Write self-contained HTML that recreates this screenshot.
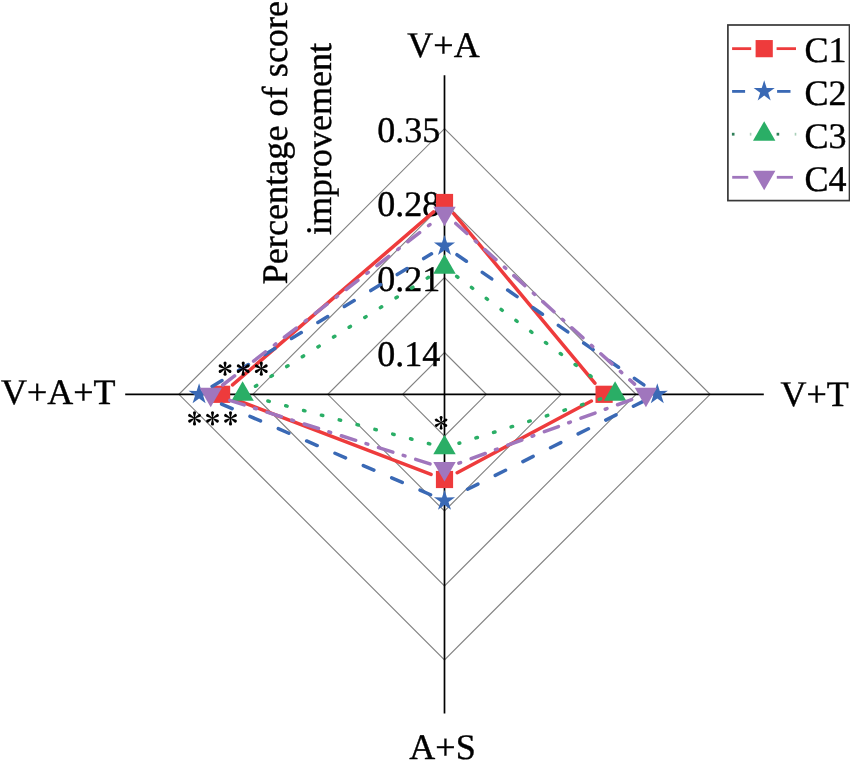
<!DOCTYPE html><html><head><meta charset="utf-8"><style>html,body{margin:0;padding:0;background:#fff;overflow:hidden;}svg{display:block;will-change:transform;}text{font-family:"Liberation Serif",serif;text-rendering:geometricPrecision;fill:#000;stroke:#000;stroke-width:0.4px;}</style></head><body>
<svg width="850" height="770" viewBox="0 0 850 770">
<rect width="850" height="770" fill="#fff"/>
<polygon points="444.50,352.50 486.30,394.30 444.50,436.10 402.70,394.30" fill="none" stroke="#828282" stroke-width="1.15"/>
<polygon points="444.50,277.60 561.20,394.30 444.50,511.00 327.80,394.30" fill="none" stroke="#828282" stroke-width="1.15"/>
<polygon points="444.50,202.70 636.10,394.30 444.50,585.90 252.90,394.30" fill="none" stroke="#828282" stroke-width="1.15"/>
<polygon points="444.50,128.70 710.10,394.30 444.50,659.90 178.90,394.30" fill="none" stroke="#828282" stroke-width="1.15"/>
<line x1="444.50" y1="75.2" x2="444.50" y2="713.6" stroke="#000" stroke-width="1.7"/>
<line x1="125.2" y1="394.30" x2="763.8" y2="394.30" stroke="#000" stroke-width="1.7"/>
<text x="440.3" y="366.30" font-size="36" text-anchor="end">0.14</text>
<text x="440.3" y="291.30" font-size="36" text-anchor="end">0.21</text>
<text x="440.3" y="216.30" font-size="36" text-anchor="end">0.28</text>
<text x="440.3" y="142.10" font-size="36" text-anchor="end">0.35</text>
<text x="443.5" y="57.2" font-size="36" text-anchor="middle">V+A</text>
<text x="442.5" y="758.6" font-size="36" text-anchor="middle">A+S</text>
<text x="780.5" y="405.6" font-size="36">V+T</text>
<text x="1" y="404.4" font-size="36">V+A+T</text>
<text transform="translate(287.3,284.3) rotate(-90)" font-size="36" textLength="283.4" lengthAdjust="spacing">Percentage of score</text>
<text transform="translate(330.8,235.0) rotate(-90)" font-size="36">improvement</text>
<path d="M453.71,213.57 L594.89,383.23" fill="none" stroke="#EE3B3C" stroke-width="3.50" stroke-linecap="round"/>
<path d="M591.40,401.08 L457.20,472.72" fill="none" stroke="#EE3B3C" stroke-width="3.50" stroke-linecap="round"/>
<path d="M431.05,474.36 L235.05,399.44" fill="none" stroke="#EE3B3C" stroke-width="3.50" stroke-linecap="round"/>
<path d="M232.52,384.91 L433.58,211.89" fill="none" stroke="#EE3B3C" stroke-width="3.50" stroke-linecap="round"/>
<rect x="435.90" y="193.90" width="17.20" height="17.20" fill="#EE3B3C"/>
<rect x="595.50" y="385.70" width="17.20" height="17.20" fill="#EE3B3C"/>
<rect x="435.90" y="470.90" width="17.20" height="17.20" fill="#EE3B3C"/>
<rect x="213.00" y="385.70" width="17.20" height="17.20" fill="#EE3B3C"/>
<path d="M456.97,254.69 L644.83,385.61" fill="none" stroke="#3A69B5" stroke-width="3.50" stroke-linecap="round" stroke-dasharray="11.5 19.4"/>
<path d="M643.71,401.10 L458.09,494.00" fill="none" stroke="#3A69B5" stroke-width="3.50" stroke-linecap="round" stroke-dasharray="11.5 19.4"/>
<path d="M430.56,494.75 L213.04,400.35" fill="none" stroke="#3A69B5" stroke-width="3.50" stroke-linecap="round" stroke-dasharray="11.5 19.4"/>
<path d="M212.11,386.44 L431.49,253.86" fill="none" stroke="#3A69B5" stroke-width="3.50" stroke-linecap="round" stroke-dasharray="11.5 19.4"/>
<polygon points="444.50,234.90 446.98,242.59 455.06,242.57 448.51,247.30 451.02,254.98 444.50,250.22 437.98,254.98 440.49,247.30 433.94,242.57 442.02,242.59" fill="#3A69B5"/>
<polygon points="657.30,383.20 659.78,390.89 667.86,390.87 661.31,395.60 663.82,403.28 657.30,398.52 650.78,403.28 653.29,395.60 646.74,390.87 654.82,390.89" fill="#3A69B5"/>
<polygon points="444.50,489.70 446.98,497.39 455.06,497.37 448.51,502.10 451.02,509.78 444.50,505.02 437.98,509.78 440.49,502.10 433.94,497.37 442.02,497.39" fill="#3A69B5"/>
<polygon points="199.10,383.20 201.58,390.89 209.66,390.87 203.11,395.60 205.62,403.28 199.10,398.52 192.58,403.28 195.09,395.60 188.54,390.87 196.62,390.89" fill="#3A69B5"/>
<path d="M456.69,276.38 L602.91,385.22" fill="none" stroke="#2AAE66" stroke-width="3.50" stroke-linecap="round" stroke-dasharray="1.5 16.95"/>
<path d="M600.60,398.85 L459.00,443.25" fill="none" stroke="#2AAE66" stroke-width="3.50" stroke-linecap="round" stroke-dasharray="1.5 16.95"/>
<path d="M429.81,443.91 L257.29,398.19" fill="none" stroke="#2AAE66" stroke-width="3.50" stroke-linecap="round" stroke-dasharray="1.5 16.95"/>
<path d="M255.47,386.21 L431.63,275.39" fill="none" stroke="#2AAE66" stroke-width="3.50" stroke-linecap="round" stroke-dasharray="1.5 16.95"/>
<polygon points="444.50,254.37 455.70,273.77 433.30,273.77" fill="#2AAE66"/>
<polygon points="615.10,381.37 626.30,400.77 603.90,400.77" fill="#2AAE66"/>
<polygon points="444.50,434.87 455.70,454.27 433.30,454.27" fill="#2AAE66"/>
<polygon points="242.60,381.37 253.80,400.77 231.40,400.77" fill="#2AAE66"/>
<path d="M455.81,223.46 L634.59,384.14" fill="none" stroke="#A076BD" stroke-width="3.50" stroke-linecap="round" stroke-dasharray="15 11.3 1.8 10.9"/>
<path d="M631.64,399.55 L458.76,463.25" fill="none" stroke="#A076BD" stroke-width="3.50" stroke-linecap="round" stroke-dasharray="15 11.3 1.8 10.9"/>
<path d="M430.01,463.90 L225.19,398.90" fill="none" stroke="#A076BD" stroke-width="3.50" stroke-linecap="round" stroke-dasharray="15 11.3 1.8 10.9"/>
<path d="M222.72,385.00 L432.48,222.60" fill="none" stroke="#A076BD" stroke-width="3.50" stroke-linecap="round" stroke-dasharray="15 11.3 1.8 10.9"/>
<polygon points="444.50,226.23 455.70,206.83 433.30,206.83" fill="#A076BD"/>
<polygon points="645.90,407.23 657.10,387.83 634.70,387.83" fill="#A076BD"/>
<polygon points="444.50,481.43 455.70,462.03 433.30,462.03" fill="#A076BD"/>
<polygon points="210.70,407.23 221.90,387.83 199.50,387.83" fill="#A076BD"/>
<path transform="translate(225.05,368.60) rotate(0)" d="M-0.35,0 L-1.55,-5.60 A1.55,1.55 0 0 1 1.55,-5.60 L0.35,0 Z" fill="#000"/><path transform="translate(225.05,368.60) rotate(60)" d="M-0.35,0 L-1.55,-5.60 A1.55,1.55 0 0 1 1.55,-5.60 L0.35,0 Z" fill="#000"/><path transform="translate(225.05,368.60) rotate(120)" d="M-0.35,0 L-1.55,-5.60 A1.55,1.55 0 0 1 1.55,-5.60 L0.35,0 Z" fill="#000"/><path transform="translate(225.05,368.60) rotate(180)" d="M-0.35,0 L-1.55,-5.60 A1.55,1.55 0 0 1 1.55,-5.60 L0.35,0 Z" fill="#000"/><path transform="translate(225.05,368.60) rotate(240)" d="M-0.35,0 L-1.55,-5.60 A1.55,1.55 0 0 1 1.55,-5.60 L0.35,0 Z" fill="#000"/><path transform="translate(225.05,368.60) rotate(300)" d="M-0.35,0 L-1.55,-5.60 A1.55,1.55 0 0 1 1.55,-5.60 L0.35,0 Z" fill="#000"/>
<path transform="translate(243.20,368.60) rotate(0)" d="M-0.35,0 L-1.55,-5.60 A1.55,1.55 0 0 1 1.55,-5.60 L0.35,0 Z" fill="#000"/><path transform="translate(243.20,368.60) rotate(60)" d="M-0.35,0 L-1.55,-5.60 A1.55,1.55 0 0 1 1.55,-5.60 L0.35,0 Z" fill="#000"/><path transform="translate(243.20,368.60) rotate(120)" d="M-0.35,0 L-1.55,-5.60 A1.55,1.55 0 0 1 1.55,-5.60 L0.35,0 Z" fill="#000"/><path transform="translate(243.20,368.60) rotate(180)" d="M-0.35,0 L-1.55,-5.60 A1.55,1.55 0 0 1 1.55,-5.60 L0.35,0 Z" fill="#000"/><path transform="translate(243.20,368.60) rotate(240)" d="M-0.35,0 L-1.55,-5.60 A1.55,1.55 0 0 1 1.55,-5.60 L0.35,0 Z" fill="#000"/><path transform="translate(243.20,368.60) rotate(300)" d="M-0.35,0 L-1.55,-5.60 A1.55,1.55 0 0 1 1.55,-5.60 L0.35,0 Z" fill="#000"/>
<path transform="translate(261.30,368.60) rotate(0)" d="M-0.35,0 L-1.55,-5.60 A1.55,1.55 0 0 1 1.55,-5.60 L0.35,0 Z" fill="#000"/><path transform="translate(261.30,368.60) rotate(60)" d="M-0.35,0 L-1.55,-5.60 A1.55,1.55 0 0 1 1.55,-5.60 L0.35,0 Z" fill="#000"/><path transform="translate(261.30,368.60) rotate(120)" d="M-0.35,0 L-1.55,-5.60 A1.55,1.55 0 0 1 1.55,-5.60 L0.35,0 Z" fill="#000"/><path transform="translate(261.30,368.60) rotate(180)" d="M-0.35,0 L-1.55,-5.60 A1.55,1.55 0 0 1 1.55,-5.60 L0.35,0 Z" fill="#000"/><path transform="translate(261.30,368.60) rotate(240)" d="M-0.35,0 L-1.55,-5.60 A1.55,1.55 0 0 1 1.55,-5.60 L0.35,0 Z" fill="#000"/><path transform="translate(261.30,368.60) rotate(300)" d="M-0.35,0 L-1.55,-5.60 A1.55,1.55 0 0 1 1.55,-5.60 L0.35,0 Z" fill="#000"/>
<path transform="translate(194.50,418.30) rotate(0)" d="M-0.35,0 L-1.55,-5.60 A1.55,1.55 0 0 1 1.55,-5.60 L0.35,0 Z" fill="#000"/><path transform="translate(194.50,418.30) rotate(60)" d="M-0.35,0 L-1.55,-5.60 A1.55,1.55 0 0 1 1.55,-5.60 L0.35,0 Z" fill="#000"/><path transform="translate(194.50,418.30) rotate(120)" d="M-0.35,0 L-1.55,-5.60 A1.55,1.55 0 0 1 1.55,-5.60 L0.35,0 Z" fill="#000"/><path transform="translate(194.50,418.30) rotate(180)" d="M-0.35,0 L-1.55,-5.60 A1.55,1.55 0 0 1 1.55,-5.60 L0.35,0 Z" fill="#000"/><path transform="translate(194.50,418.30) rotate(240)" d="M-0.35,0 L-1.55,-5.60 A1.55,1.55 0 0 1 1.55,-5.60 L0.35,0 Z" fill="#000"/><path transform="translate(194.50,418.30) rotate(300)" d="M-0.35,0 L-1.55,-5.60 A1.55,1.55 0 0 1 1.55,-5.60 L0.35,0 Z" fill="#000"/>
<path transform="translate(212.50,418.30) rotate(0)" d="M-0.35,0 L-1.55,-5.60 A1.55,1.55 0 0 1 1.55,-5.60 L0.35,0 Z" fill="#000"/><path transform="translate(212.50,418.30) rotate(60)" d="M-0.35,0 L-1.55,-5.60 A1.55,1.55 0 0 1 1.55,-5.60 L0.35,0 Z" fill="#000"/><path transform="translate(212.50,418.30) rotate(120)" d="M-0.35,0 L-1.55,-5.60 A1.55,1.55 0 0 1 1.55,-5.60 L0.35,0 Z" fill="#000"/><path transform="translate(212.50,418.30) rotate(180)" d="M-0.35,0 L-1.55,-5.60 A1.55,1.55 0 0 1 1.55,-5.60 L0.35,0 Z" fill="#000"/><path transform="translate(212.50,418.30) rotate(240)" d="M-0.35,0 L-1.55,-5.60 A1.55,1.55 0 0 1 1.55,-5.60 L0.35,0 Z" fill="#000"/><path transform="translate(212.50,418.30) rotate(300)" d="M-0.35,0 L-1.55,-5.60 A1.55,1.55 0 0 1 1.55,-5.60 L0.35,0 Z" fill="#000"/>
<path transform="translate(230.50,418.30) rotate(0)" d="M-0.35,0 L-1.55,-5.60 A1.55,1.55 0 0 1 1.55,-5.60 L0.35,0 Z" fill="#000"/><path transform="translate(230.50,418.30) rotate(60)" d="M-0.35,0 L-1.55,-5.60 A1.55,1.55 0 0 1 1.55,-5.60 L0.35,0 Z" fill="#000"/><path transform="translate(230.50,418.30) rotate(120)" d="M-0.35,0 L-1.55,-5.60 A1.55,1.55 0 0 1 1.55,-5.60 L0.35,0 Z" fill="#000"/><path transform="translate(230.50,418.30) rotate(180)" d="M-0.35,0 L-1.55,-5.60 A1.55,1.55 0 0 1 1.55,-5.60 L0.35,0 Z" fill="#000"/><path transform="translate(230.50,418.30) rotate(240)" d="M-0.35,0 L-1.55,-5.60 A1.55,1.55 0 0 1 1.55,-5.60 L0.35,0 Z" fill="#000"/><path transform="translate(230.50,418.30) rotate(300)" d="M-0.35,0 L-1.55,-5.60 A1.55,1.55 0 0 1 1.55,-5.60 L0.35,0 Z" fill="#000"/>
<path transform="translate(441.10,422.80) rotate(0)" d="M-0.35,0 L-1.40,-5.50 A1.40,1.40 0 0 1 1.40,-5.50 L0.35,0 Z" fill="#000"/><path transform="translate(441.10,422.80) rotate(60)" d="M-0.35,0 L-1.40,-5.50 A1.40,1.40 0 0 1 1.40,-5.50 L0.35,0 Z" fill="#000"/><path transform="translate(441.10,422.80) rotate(120)" d="M-0.35,0 L-1.40,-5.50 A1.40,1.40 0 0 1 1.40,-5.50 L0.35,0 Z" fill="#000"/><path transform="translate(441.10,422.80) rotate(180)" d="M-0.35,0 L-1.40,-5.50 A1.40,1.40 0 0 1 1.40,-5.50 L0.35,0 Z" fill="#000"/><path transform="translate(441.10,422.80) rotate(240)" d="M-0.35,0 L-1.40,-5.50 A1.40,1.40 0 0 1 1.40,-5.50 L0.35,0 Z" fill="#000"/><path transform="translate(441.10,422.80) rotate(300)" d="M-0.35,0 L-1.40,-5.50 A1.40,1.40 0 0 1 1.40,-5.50 L0.35,0 Z" fill="#000"/>
<rect x="727.9" y="25" width="121.6" height="175.6" fill="#fff" stroke="#383838" stroke-width="1.7"/>
<line x1="732.10" y1="48.65" x2="751.20" y2="48.65" stroke="#EE3B3C" stroke-width="2.80"/>
<line x1="776.60" y1="48.65" x2="796.00" y2="48.65" stroke="#EE3B3C" stroke-width="2.80"/>
<rect x="755.60" y="40.05" width="17.20" height="17.20" fill="#EE3B3C"/>
<text x="804.6" y="62.25" font-size="36">C1</text>
<line x1="732.10" y1="91.40" x2="745.10" y2="91.40" stroke="#3A69B5" stroke-width="2.80"/>
<line x1="777.10" y1="91.40" x2="790.50" y2="91.40" stroke="#3A69B5" stroke-width="2.80"/>
<polygon points="764.20,80.30 766.68,87.99 774.76,87.97 768.21,92.70 770.72,100.38 764.20,95.62 757.68,100.38 760.19,92.70 753.64,87.97 761.72,87.99" fill="#3A69B5"/>
<text x="804.6" y="105.00" font-size="36">C2</text>
<rect x="731.90" y="132.80" width="2.60" height="2.8" fill="#2f7f58"/>
<rect x="749.80" y="132.80" width="1.60" height="2.8" fill="#a9cfb9"/>
<rect x="776.60" y="132.80" width="2.60" height="2.8" fill="#2f7f58"/>
<rect x="794.70" y="132.80" width="1.60" height="2.8" fill="#a9cfb9"/>
<polygon points="764.20,121.27 775.40,140.67 753.00,140.67" fill="#2AAE66"/>
<text x="804.6" y="147.80" font-size="36">C3</text>
<line x1="732.20" y1="177.30" x2="748.30" y2="177.30" stroke="#A076BD" stroke-width="2.80"/>
<line x1="776.80" y1="177.30" x2="792.90" y2="177.30" stroke="#A076BD" stroke-width="2.80"/>
<polygon points="764.20,190.23 775.40,170.83 753.00,170.83" fill="#A076BD"/>
<text x="804.6" y="190.90" font-size="36">C4</text>
</svg></body></html>
